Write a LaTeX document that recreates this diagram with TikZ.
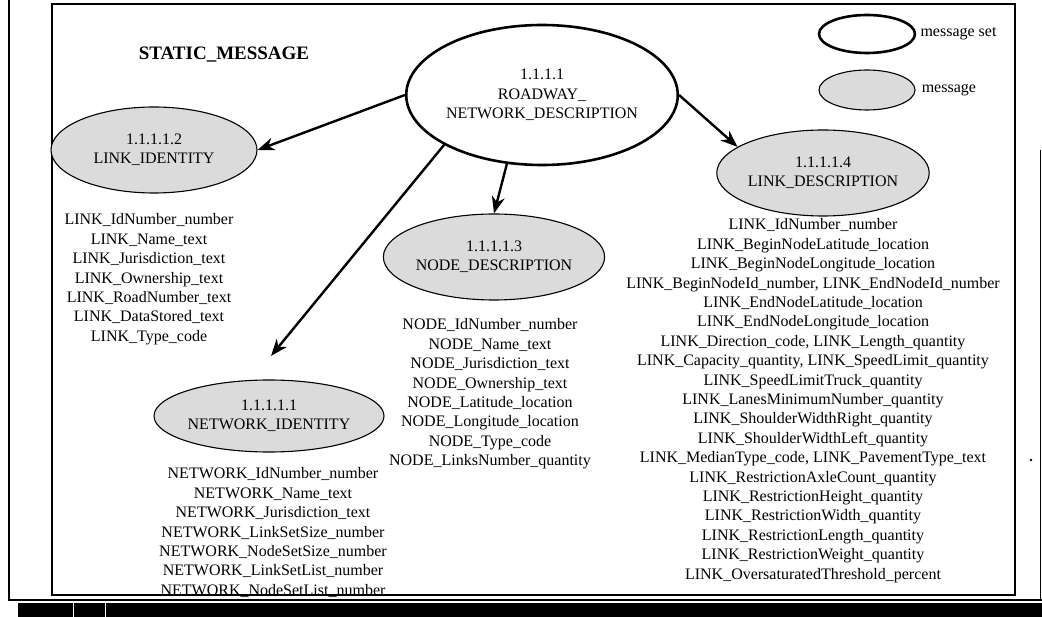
\documentclass[tikz,border=0pt]{standalone}
\usepackage{fontspec}
\setmainfont{Liberation Serif}
\usetikzlibrary{arrows.meta, positioning, shapes.geometric}

\begin{document}
\begin{tikzpicture}[x=1pt, y=-1pt,
  every node/.style={font=\fontsize{16}{19.4}\selectfont},
  msgset/.style={ellipse, draw, line width=2.6pt, inner sep=0pt, align=center},
  msg/.style={ellipse, draw, line width=1.1pt, fill=black!14, inner sep=0pt, align=center,
    minimum width=206pt, minimum height=86pt},
  arr/.style={-{Stealth[length=17pt, width=13pt]}, line width=2.4pt},
  lst/.style={align=center, inner sep=0pt, anchor=north},
]
  \useasboundingbox (0,0) rectangle (1042,617);

  % scan edges
  \draw[line width=2pt] (9,0) -- (9,600) -- (1042,600);
  \draw[line width=1pt] (1040,150) -- (1040,600);
  \fill (18,603) rectangle (1042,617);
  \draw[white, line width=1pt] (73,603) -- (73,617) (105,603) -- (105,617);
  \fill (1031,460) circle (1.3pt);

  % frame
  \draw[line width=2.6pt] (52,4) rectangle (1015,595);

  \node[font=\fontsize{19}{22}\selectfont\bfseries] (title) at (224,55) {STATIC\_MESSAGE};

  % messages
  \node[msgset, minimum width=242pt, minimum height=140pt] (root) at (542,95)
    {1.1.1.1\\ROADWAY\_\\NETWORK\_DESCRIPTION};
  \node[msg] (lid) at (154,150) {1.1.1.1.2\\LINK\_IDENTITY};
  \node[msg] (nd)  at (494,257) {1.1.1.1.3\\NODE\_DESCRIPTION};
  \node[msg] (ld)  at (823,173) {1.1.1.1.4\\LINK\_DESCRIPTION};
  \node[msg, minimum height=72pt] (ni) at (269,416) {1.1.1.1.1\\NETWORK\_IDENTITY};

  % legend
  \node[msgset, minimum width=96pt, minimum height=38pt] (kset) at (867,34) {};
  \node[right=4pt of kset, inner sep=0pt] (ksetl) {message set};
  \node[msg, minimum width=96pt, minimum height=40pt] (kmsg) at (867,90) {};
  \node[right=6pt of kmsg, inner sep=0pt] (kmsgl) {message};

  \coordinate (nitip) at (271,356);
  \draw[arr] (root.west) -- (lid.east);
  \draw[arr] (root.207) -- (nitip);
  \draw[arr] (root.243) -- (nd.north);
  \draw[arr] (root.east) -- (ld.163);

  % data elements
  \node[lst, below=20pt of lid, xshift=-5pt] (lidlist) {LINK\_IdNumber\_number\\
    LINK\_Name\_text\\LINK\_Jurisdiction\_text\\LINK\_Ownership\_text\\
    LINK\_RoadNumber\_text\\LINK\_DataStored\_text\\LINK\_Type\_code};
  \node[lst, below=18pt of nd, xshift=-4pt] (ndlist) {NODE\_IdNumber\_number\\
    NODE\_Name\_text\\NODE\_Jurisdiction\_text\\NODE\_Ownership\_text\\
    NODE\_Latitude\_location\\NODE\_Longitude\_location\\NODE\_Type\_code\\
    NODE\_LinksNumber\_quantity};
  \node[lst, below=15pt of ni, xshift=4pt] (nilist) {NETWORK\_IdNumber\_number\\
    NETWORK\_Name\_text\\NETWORK\_Jurisdiction\_text\\NETWORK\_LinkSetSize\_number\\
    NETWORK\_NodeSetSize\_number\\NETWORK\_LinkSetList\_number\\
    NETWORK\_NodeSetList\_number};
  \node[lst, below=2pt of ld, xshift=-10pt] (ldlist) {LINK\_IdNumber\_number\\
    LINK\_BeginNodeLatitude\_location\\LINK\_BeginNodeLongitude\_location\\
    LINK\_BeginNodeId\_number, LINK\_EndNodeId\_number\\
    LINK\_EndNodeLatitude\_location\\LINK\_EndNodeLongitude\_location\\
    LINK\_Direction\_code, LINK\_Length\_quantity\\
    LINK\_Capacity\_quantity, LINK\_SpeedLimit\_quantity\\
    LINK\_SpeedLimitTruck\_quantity\\LINK\_LanesMinimumNumber\_quantity\\
    LINK\_ShoulderWidthRight\_quantity\\LINK\_ShoulderWidthLeft\_quantity\\
    LINK\_MedianType\_code, LINK\_PavementType\_text\\
    LINK\_RestrictionAxleCount\_quantity\\LINK\_RestrictionHeight\_quantity\\
    LINK\_RestrictionWidth\_quantity\\LINK\_RestrictionLength\_quantity\\
    LINK\_RestrictionWeight\_quantity\\LINK\_OversaturatedThreshold\_percent};
\end{tikzpicture}
\end{document}
